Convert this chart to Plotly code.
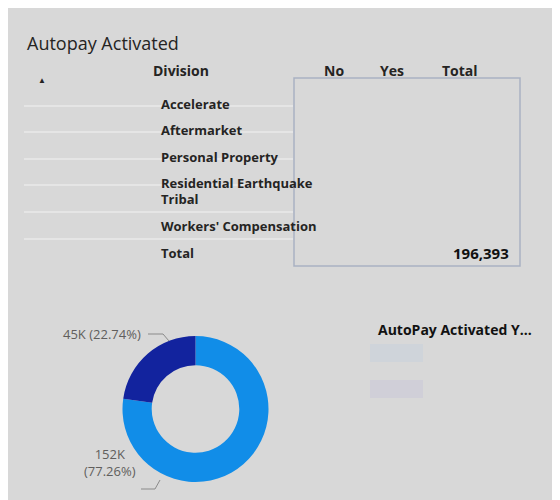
import plotly.graph_objects as go

divisions = ["Accelerate", "Aftermarket", "Personal Property", "Residential Earthquake",
             "Tribal", "Workers' Compensation", "Total"]
columns = ["No", "Yes", "Total"]
grand_total = 196393
slice_labels = ["No", "Yes"]
slice_values = [151733, 44660]
slice_text = ["152K<br>(77.26%)", "45K (22.74%)"]

W, H = 560, 500
BG = "#d8d8d8"


def px(x):
    return x / W


def py(y):
    return 1 - y / H


def note(x, y, text, font, **kw):
    return dict(x=px(x), y=py(y), xref="paper", yref="paper", text=text,
                showarrow=False, font=font, **kw)


fig = go.Figure()
fig.add_trace(go.Pie(
    labels=slice_labels, values=slice_values, hole=0.6, sort=False,
    direction="clockwise", rotation=0, textinfo="none",
    marker=dict(colors=["#118de8", "#12239e"], line=dict(width=0)),
    domain=dict(x=[px(114), px(261)], y=[py(474), py(328)]),
    showlegend=False, hoverinfo="label+value+percent",
))

ann = []
shapes = []
ann.append(note(17, 21, "Autopay Activated", dict(size=18, color="#252423", family="Open Sans"),
                xanchor="left"))
hdr = dict(size=14, color="#252423", family="Open Sans")
ann.append(note(143, 51, "<b>Division</b>", hdr))
ann.append(note(28, 64, "▲", dict(size=8, color="#252423")))
for cx, c in zip([326, 398, 472], columns):
    ann.append(note(cx, 51, f"<b>{c}</b>", hdr))

row_y = [85, 111, 138, 164, 191, 218, 245]
for i, (yy, d) in enumerate(zip(row_y, divisions)):
    ann.append(note(151, yy, f"<b>{d}</b>", dict(size=13, color="#252423", family="Open Sans")))
    if i < len(divisions) - 1:
        shapes.append(dict(type="line", xref="paper", yref="paper", x0=px(16), x1=px(285),
                           y0=py(yy + 13), y1=py(yy + 13), line=dict(color="#eaeaea", width=1.5)))

shapes.append(dict(type="rect", xref="paper", yref="paper", x0=px(286), x1=px(512),
                   y0=py(70), y1=py(258), line=dict(color="#a9b1c2", width=1.5)))
ann.append(note(503, 245, f"<b>{grand_total:,}</b>",
                dict(size=15, color="#111111", family="Open Sans"), xanchor="right"))

lab = dict(size=13, color="#605e5c", family="Open Sans")
ann.append(note(135, 326, slice_text[1], lab, xanchor="right"))
shapes.append(dict(type="path", xref="paper", yref="paper",
                   path=f"M {px(140)},{py(326)} L {px(155)},{py(326)} L {px(161)},{py(333)}",
                   line=dict(color="#8a8a8a", width=1)))
ann.append(note(130, 474, slice_text[0], lab, xanchor="right"))
shapes.append(dict(type="path", xref="paper", yref="paper",
                   path=f"M {px(133)},{py(481)} L {px(147)},{py(481)} L {px(152)},{py(472)}",
                   line=dict(color="#8a8a8a", width=1)))

ann.append(note(368, 321, "<b>AutoPay Activated Y...</b>",
                dict(size=14, color="#111111", family="Open Sans"), xanchor="left"))
for y0, col in [(336, "#c9d2dc"), (372, "#ccc9d8")]:
    shapes.append(dict(type="rect", xref="paper", yref="paper", x0=px(362), x1=px(415),
                       y0=py(y0), y1=py(y0 + 18), line=dict(width=0), fillcolor=col, opacity=0.6))

fig.update_layout(width=W, height=H, margin=dict(l=0, r=0, t=0, b=0),
                  paper_bgcolor=BG, plot_bgcolor=BG, annotations=ann, shapes=shapes)
fig.write_html("out.html")
